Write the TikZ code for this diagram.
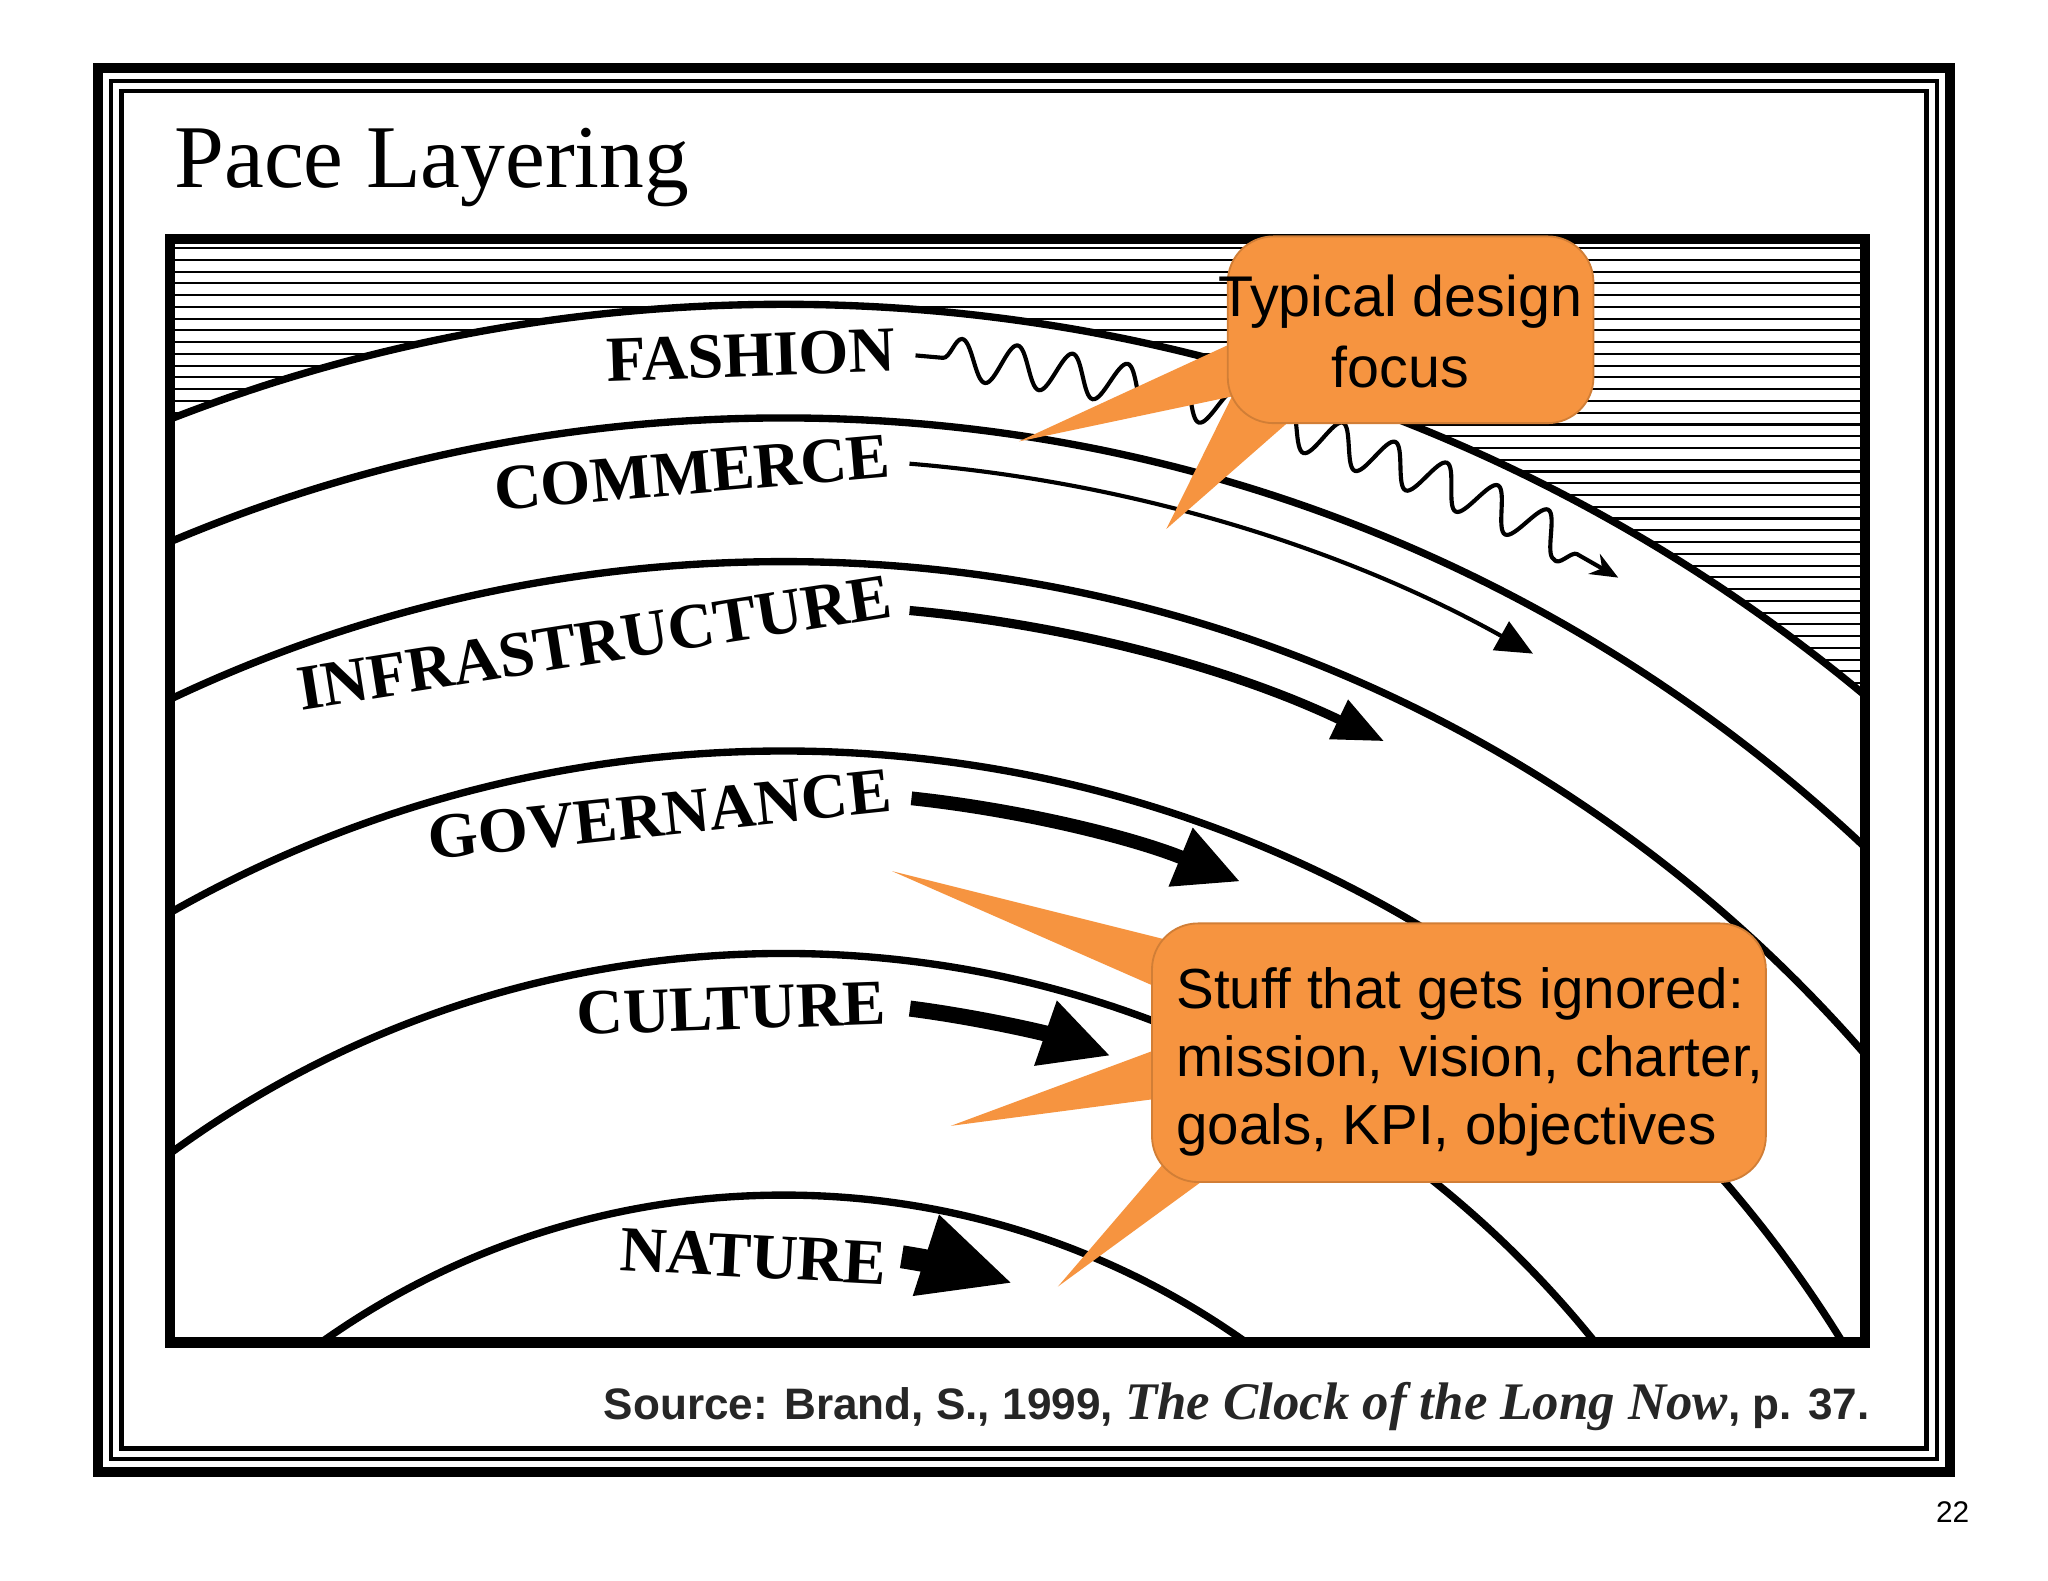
\documentclass[tikz,border=0pt]{standalone}
\usepackage{fontspec}
\setmainfont{Liberation Serif}
\newfontfamily\arialf{Liberation Sans}
\usetikzlibrary{arrows.meta,decorations.pathmorphing}
\definecolor{callout}{RGB}{246,148,64}
\tikzset{
  layerlbl/.style={font=\bfseries\fontsize{14}{14}\selectfont, inner sep=0pt},
  ring/.style={line width=1.6pt},
  bubble/.style={fill=callout, draw=callout!85!black, line width=0.4pt, rounded corners=10pt},
  spike/.style={fill=callout, draw=none}
}
\begin{document}
\begin{tikzpicture}[x=0.01cm,y=-0.01cm]
\useasboundingbox[fill=white] (0,0) rectangle (1568,1210);
% frames
\draw[line width=2.2pt] (75,52) rectangle (1493,1127);
\draw[line width=0.9pt] (85,62) rectangle (1483,1117);
\draw[line width=0.9pt] (93,70) rectangle (1475,1109);
\node[anchor=west, inner sep=0pt, font=\fontsize{19.5}{20}\selectfont] (title) at (133,128) {Pace Layering};
\coordinate (C) at (600,1527);
\begin{scope}
\clip (130,183) rectangle (1428,1028);
\foreach \yy in {190,199,...,530} \draw[line width=0.45pt] (130,\yy) -- (1428,\yy);
\fill[white] (C) circle[radius=1294];
\foreach \r in {1294,1207,1097,952,797,612} \draw[ring] (C) circle[radius=\r];
\end{scope}
\draw[line width=2.3pt] (130,183) rectangle (1428,1028);
% labels
\node[layerlbl, rotate=2] (fashion) at (575,272) {FASHION};
\node[layerlbl, rotate=5] (commerce) at (530,362) {COMMERCE};
\node[layerlbl, rotate=9] (infra) at (455,492) {INFRASTRUCTURE};
\node[layerlbl, rotate=6] (gov) at (505,624) {GOVERNANCE};
\node[layerlbl, rotate=2] (culture) at (560,772) {CULTURE};
\node[layerlbl, rotate=-3] (nature) at (577,962) {NATURE};
% flows
\draw[line width=0.9pt, -{Stealth[length=6pt,width=5pt]}, decorate, decoration={snake, amplitude=4.5pt, segment length=12pt, pre length=6pt, post length=10pt}]
  (C) ++(-85.4:1259) arc[start angle=-85.4, end angle=-59.5, radius=1259];
\draw[line width=0.9pt, -{Triangle[length=8pt,width=7pt]}] (C) ++(-85.3:1176) arc[start angle=-85.3, end angle=-60.8, radius=1176];
\draw[line width=2pt, -{Triangle[length=11pt,width=9pt]}] (C) ++(-84.8:1064) arc[start angle=-84.8, end angle=-64.4, radius=1064];
\draw[line width=3pt, -{Triangle[length=14pt,width=13pt]}] (C) ++(-83.9:921) arc[start angle=-83.9, end angle=-67.7, radius=921];
\draw[line width=3.5pt, -{Triangle[length=15pt,width=14pt]}] (C) ++(-82.7:761) arc[start angle=-82.7, end angle=-70.8, radius=761];
\draw[line width=5pt, -{Triangle[length=20pt,width=17pt]}] (C) ++(-80.9:572) arc[start angle=-80.9, end angle=-72.1, radius=572];
% callout 1
\fill[spike] (945,262) -- (780,338) -- (960,300) -- cycle;
\fill[spike] (945,300) -- (893,405) -- (990,320) -- cycle;
\draw[bubble] (940,181) rectangle (1220,324);
\node[font=\arialf\fontsize{12.5}{15.5}\selectfont, align=center] (focustxt) at (1072,254) {Typical design\\focus};
% callout 2
\fill[spike] (895,720) -- (683,667) -- (895,760) -- cycle;
\fill[spike] (895,800) -- (728,862) -- (895,840) -- cycle;
\fill[spike] (900,880) -- (810,985) -- (940,890) -- cycle;
\draw[bubble] (882,707) rectangle (1352,905);
\node[font=\arialf\fontsize{12.3}{14.8}\selectfont, align=left, anchor=north west, inner sep=0pt] (ignored) at (900,740) {Stuff that gets ignored:\\mission, vision, charter,\\goals, KPI, objectives};
% source
\node[anchor=east, inner sep=0pt, text=black!85] (source) at (1432,1077) {\arialf\bfseries\fontsize{9.6}{12}\selectfont Source: Brand, S., 1999, \rmfamily\itshape\fontsize{11.5}{12}\selectfont The Clock of the Long Now\upshape\arialf\fontsize{9.6}{12}\selectfont , p. 37.};
\node[font=\arialf\fontsize{6.5}{7}\selectfont] (page) at (1495,1158) {22};
\end{tikzpicture}
\end{document}
